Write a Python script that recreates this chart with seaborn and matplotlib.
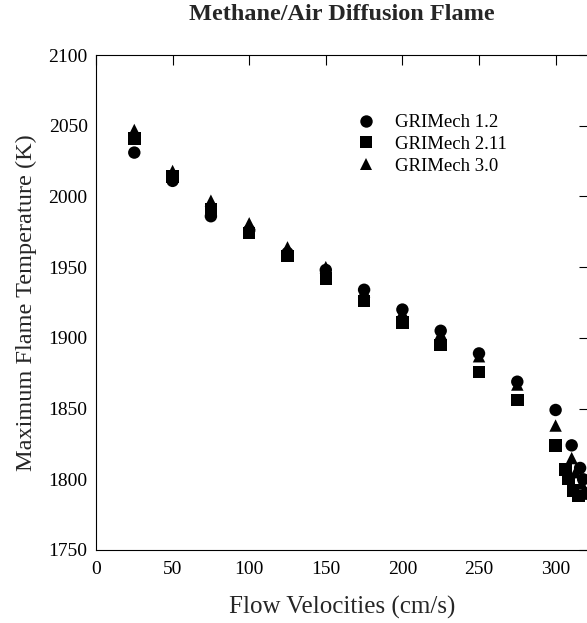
import matplotlib
matplotlib.use("Agg")
import matplotlib.pyplot as plt
import seaborn as sns
import pandas as pd

sns.set_theme(style="white")
plt.rcParams['font.family'] = ['Liberation Serif', 'DejaVu Serif']

# --- data ---
x_gri12 = [25, 50, 75, 100, 125, 150, 175, 200, 225, 250, 275, 300, 310.5, 316, 318, 320]
y_gri12 = [2031, 2011, 1986, 1976, 1960, 1948, 1934, 1920, 1905, 1889, 1869, 1849, 1824, 1808, 1800, 1790]

x_gri211 = [25, 50, 75, 100, 125, 150, 175, 200, 225, 250, 275, 300, 306.5, 308.5, 311.5, 315]
y_gri211 = [2041, 2014, 1991, 1974, 1958, 1942, 1926, 1911, 1895, 1876, 1856, 1824, 1807, 1800, 1792, 1788]

x_gri30 = [25, 50, 75, 100, 125, 150, 175, 200, 225, 250, 275, 300, 310.5, 313, 317, 319]
y_gri30 = [2047, 2018, 1997, 1981, 1964, 1950, 1933, 1918, 1903, 1887, 1867, 1838, 1815, 1805, 1797, 1790]

series_names = ["GRIMech 1.2", "GRIMech 2.11", "GRIMech 3.0"]
x_ticks = [0, 50, 100, 150, 200, 250, 300]
y_ticks = [1750, 1800, 1850, 1900, 1950, 2000, 2050, 2100]

df = pd.concat([
    pd.DataFrame({"x": x_gri12, "y": y_gri12, "mech": series_names[0]}),
    pd.DataFrame({"x": x_gri211, "y": y_gri211, "mech": series_names[1]}),
    pd.DataFrame({"x": x_gri30, "y": y_gri30, "mech": series_names[2]}),
], ignore_index=True)

W, H = 587, 623
fig = plt.figure(figsize=(W / 100, H / 100), dpi=100)
left_px, right_px, top_px, bot_px = 96, 589, 55, 550
ax = fig.add_axes([left_px / W, 1 - bot_px / H, (right_px - left_px) / W, (bot_px - top_px) / H])

sns.scatterplot(data=df, x="x", y="y", style="mech", style_order=series_names,
                markers={"GRIMech 1.2": "o", "GRIMech 2.11": "s", "GRIMech 3.0": "^"},
                color="black", s=80, linewidth=0, ax=ax, clip_on=True)

ax.set_xlim(0, (right_px - left_px) / 1.532)
ax.set_ylim(1750, 2100)
ax.set_xticks(x_ticks)
ax.set_yticks(y_ticks)
ax.tick_params(direction="in", length=7, width=0.8, top=True, right=True,
               labelsize=14, pad=6, colors="black")
ax.tick_params(axis="x", pad=8)
for sp in ax.spines.values():
    sp.set_color("black")
    sp.set_linewidth(0.8)

ax.set_xlabel("Flow Velocities (cm/s)", fontsize=18, labelpad=13)
ax.set_ylabel("Maximum Flame Temperature (K)", fontsize=17.5, labelpad=8)
fig.text(342 / W, 1 - 15 / H, "Methane/Air Diffusion Flame", ha="center", va="center",
         fontsize=17.5, fontweight="bold")

leg = ax.legend(loc="upper left", bbox_to_anchor=(347 / W, 1 - 114 / H),
                bbox_transform=fig.transFigure, frameon=False, fontsize=13.5,
                handletextpad=0.55, labelspacing=0.25, borderaxespad=0, borderpad=0,
                markerscale=1.0)
for t in leg.get_texts():
    t.set_color("black")

fig.savefig("out.png", dpi=100)
